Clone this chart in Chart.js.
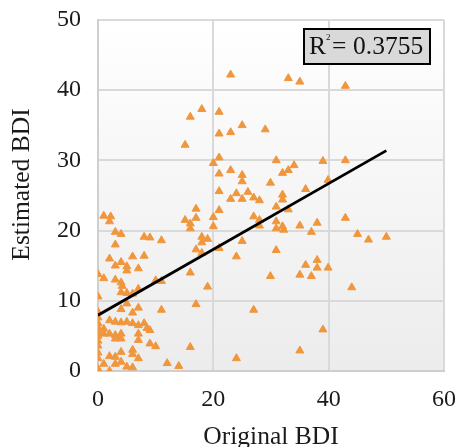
<!DOCTYPE html>
<html>
<head>
<meta charset="utf-8">
<script src="https://cdn.jsdelivr.net/npm/chart.js@4/dist/chart.umd.min.js"></script>
<style>
  html, body { margin: 0; padding: 0; background: #ffffff; }
  #wrap { width: 458px; height: 447px; }
</style>
</head>
<body>
<div id="wrap"><canvas id="c" width="458" height="447"></canvas></div>
<script>
// ---- Data ----
const originalBDI = [
  23, 33, 35, 42.9, 18, 21, 16, 25, 23, 21, 29, 15.1, 21, 20, 30.9, 39, 42.9, 23, 21, 25,
  25, 34, 33, 32, 29.9, 39.9, 36, 21, 26, 24, 32, 27, 23, 25, 28, 32, 30.9, 33, 17, 21,
  20, 17, 27, 42.9, 15.1, 16, 16, 20, 28, 28, 30.9, 30.9, 32, 32.2, 35, 38, 37, 45, 46.9, 50,
  18, 19, 18, 17, 18, 21, 25, 24, 30.9, 36, 38, 38, 39.9, 35, 37, 29.9, 16, 19, 44, 17,
  27, 39, 16, 35, 24, 12, 14,
  0, 1, 3, 4, 4.2, 10, 11, 4, 5, 6, 7, 0, 4, 6, 7, 5, 11,
  0, 0, 0, 0, 0, 0, 0, 0, 0, 0, 0,
  1, 1, 2, 3, 4, 5, 6, 7, 8, 8.5, 9, 2, 3, 4, 3, 4, 7, 7, 9, 10,
  6, 6, 4, 3, 2, 7, 1, 3, 4, 5, 6, 2,
  1, 2.2, 2, 3, 4, 3, 2, 3, 4, 5, 5, 6, 7, 8, 8, 9, 11
];
const estimatedBDI = [
  42.2, 41.7, 41.2, 40.6, 37.3, 36.9, 36.2, 35.0, 34.0, 33.8, 34.4, 32.2, 30.4, 29.6, 30.0, 29.9, 30.0, 28.6, 28.1, 27.9,
  27.0, 29.3, 28.6, 28.2, 26.8, 27.2, 25.9, 25.6, 25.5, 25.3, 25.1, 24.7, 24.5, 24.5, 24.3, 24.4, 23.4, 23.0, 23.1, 22.9,
  21.9, 21.8, 22.0, 21.8, 21.5, 21.0, 20.3, 20.6, 21.5, 20.7, 21.3, 20.3, 20.6, 20.1, 20.7, 21.1, 19.8, 19.5, 18.7, 19.1,
  19.1, 18.8, 18.3, 17.3, 16.8, 17.5, 18.5, 16.3, 17.2, 15.1, 15.8, 14.7, 14.7, 13.7, 13.5, 13.5, 14.0, 12.0, 11.9, 9.5,
  8.7, 5.9, 3.4, 2.9, 1.8, 1.1, 0.7,
  13.8, 13.2, 13.0, 12.6, 12.1, 12.9, 12.8, 11.2, 11.1, 11.0, 11.7, 10.6, 8.8, 8.3, 9.0, 9.6, 8.7,
  8.4, 7.6, 6.8, 6.2, 5.6, 5.0, 4.3, 3.6, 2.6, 1.8, 0.3,
  6.0, 5.3, 7.2, 7.0, 6.9, 7.0, 6.8, 6.5, 6.8, 6.1, 5.8, 5.3, 5.1, 5.3, 4.6, 4.6, 5.3, 4.4, 3.9, 3.5,
  3.0, 2.4, 2.7, 2.0, 2.1, 1.8, 1.0, 1.0, 1.3, 0.6, 0.5, 0.0,
  22.1, 22.0, 21.3, 19.8, 19.5, 18.0, 16.0, 15.0, 15.5, 14.9, 14.3, 16.3, 14.6, 16.4, 19.1, 19.0, 18.6
];
const trendX = [0, 50];
const trendY = [7.95, 31.4];
const xTicks = [0, 20, 40, 60];
const yTicks = [0, 10, 20, 30, 40, 50];
const rSquaredLabel = "0.3755";
const xTitle = "Original BDI";
const yTitle = "Estimated BDI";

// ---- Build chart ----
const points = originalBDI.map((x, i) => ({ x: x, y: estimatedBDI[i] }));
const trend = trendX.map((x, i) => ({ x: x, y: trendY[i] }));

const SERIF = "'Liberation Serif', 'Times New Roman', serif";
const ORANGE = '#F0963C';

function zeroPad(scale) {
  scale.paddingTop = 0;
  scale.paddingBottom = 0;
  scale.paddingLeft = 0;
  scale.paddingRight = 0;
}

const decorPlugin = {
  id: 'decor',
  beforeDraw(chart) {
    const ctx = chart.ctx;
    const a = chart.chartArea;
    ctx.save();
    ctx.fillStyle = '#ffffff';
    ctx.fillRect(0, 0, chart.width, chart.height);
    const g = ctx.createLinearGradient(0, a.top, 0, a.bottom);
    g.addColorStop(0, '#ffffff');
    g.addColorStop(1, '#ececec');
    ctx.fillStyle = g;
    ctx.fillRect(a.left, a.top, a.right - a.left, a.bottom - a.top);
    ctx.restore();
  },
  afterDraw(chart) {
    const ctx = chart.ctx;
    ctx.save();
    // y-axis title
    ctx.translate(22, 184.5);
    ctx.rotate(-Math.PI / 2);
    ctx.fillStyle = '#1a1a1a';
    ctx.font = '25.5px ' + SERIF;
    ctx.textAlign = 'center';
    ctx.textBaseline = 'middle';
    ctx.fillText(yTitle, 0, 0);
    ctx.restore();

    // R² box
    ctx.save();
    ctx.fillStyle = '#d9d9d9';
    ctx.fillRect(304, 29, 126, 35);
    ctx.strokeStyle = '#000000';
    ctx.lineWidth = 2;
    ctx.strokeRect(304, 29, 126, 35);
    ctx.fillStyle = '#111111';
    ctx.textBaseline = 'alphabetic';
    ctx.textAlign = 'left';
    ctx.font = '25.5px ' + SERIF;
    ctx.fillText('R', 309, 54);
    ctx.font = '9px ' + SERIF;
    ctx.fillText('2', 326, 40);
    ctx.font = '25.5px ' + SERIF;
    ctx.fillText('=', 332, 54);
    ctx.fillText(rSquaredLabel, 353, 54);
    ctx.restore();
  }
};

new Chart(document.getElementById('c'), {
  type: 'scatter',
  data: {
    datasets: [
      {
        type: 'line',
        label: 'Trend',
        data: trend,
        borderColor: '#000000',
        borderWidth: 2.75,
        pointRadius: 0,
        fill: false,
        tension: 0
      },
      {
        label: 'BDI',
        data: points,
        pointStyle: 'triangle',
        pointRadius: 4.6,
        pointBorderWidth: 1,
        backgroundColor: ORANGE,
        borderColor: ORANGE
      }
    ]
  },
  options: {
    responsive: false,
    animation: false,
    devicePixelRatio: 1,
    layout: { padding: { top: 20, right: 14, left: 0, bottom: 0 } },
    plugins: {
      legend: { display: false },
      tooltip: { enabled: false }
    },
    scales: {
      x: {
        type: 'linear',
        min: 0,
        max: 60,
        afterBuildTicks(scale) { scale.ticks = xTicks.map(v => ({ value: v })); },
        afterFit(scale) { scale.height = 76; zeroPad(scale); },
        grid: { color: '#d9d9d9', lineWidth: 2, drawTicks: false },
        border: { display: true, color: '#cfcfcf', width: 2 },
        ticks: {
          padding: 14,
          color: '#1a1a1a',
          font: { family: SERIF, size: 24 }
        },
        title: {
          display: true,
          text: xTitle,
          color: '#1a1a1a',
          font: { family: SERIF, size: 25.5 },
          padding: { top: 0, bottom: -6 }
        }
      },
      y: {
        type: 'linear',
        min: 0,
        max: 50,
        afterBuildTicks(scale) { scale.ticks = yTicks.map(v => ({ value: v })); },
        afterFit(scale) { scale.width = 98; zeroPad(scale); },
        grid: { color: '#d9d9d9', lineWidth: 2, drawTicks: false },
        border: { display: true, color: '#cfcfcf', width: 2 },
        ticks: {
          padding: 17,
          color: '#1a1a1a',
          font: { family: SERIF, size: 24 }
        }
      }
    }
  },
  plugins: [decorPlugin]
});
</script>
</body>
</html>
